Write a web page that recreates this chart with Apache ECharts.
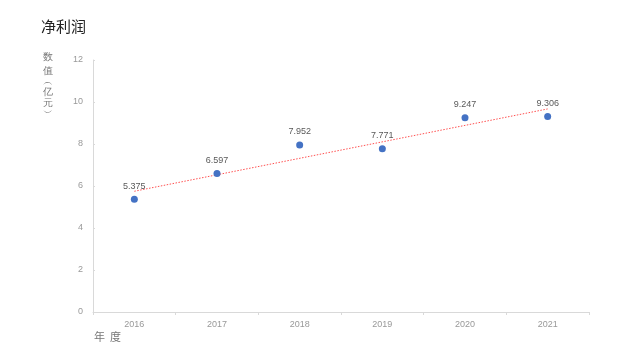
<!DOCTYPE html>
<html><head><meta charset="utf-8">
<script src="https://cdn.jsdelivr.net/npm/echarts@6/dist/echarts.min.js"></script>
<style>html,body{margin:0;padding:0;background:#fff}#c{width:640px;height:360px}</style>
</head><body><div id="c"></div>
<script>
const years = ['2016','2017','2018','2019','2020','2021'];
const netProfit = [5.375, 6.597, 7.952, 7.771, 9.247, 9.306];
const trendValues = [5.75, null, null, null, null, 9.67];
const yTicks = [0, 2, 4, 6, 8, 10, 12];

const chart = echarts.init(document.getElementById('c'));
chart.setOption({
  animation: false,
  title: { text: '净利润', left: 36, top: 14, textStyle: { fontSize: 15, fontWeight: 'normal', color: '#222', fontFamily: 'Noto Sans CJK SC' } },
  grid: { left: 93, right: 51, top: 60, bottom: 48, outerBoundsMode: 'none', containLabel: false },
  graphic: [
    { type: 'text', left: 43, top: 52, style: {
        text: '{a|数}\n{a|值}\n{p|︵}\n{b|亿}\n{b|元}\n{p|︶}',
        fill: '#777', fontSize: 10, fontFamily: 'Noto Sans CJK SC',
        rich: { a: { lineHeight: 14, fontSize: 10 }, b: { lineHeight: 11, fontSize: 10 }, p: { lineHeight: 9, fontSize: 10 } }
      } },
    { type: 'text', left: 94, top: 331, style: { text: '年  度', fill: '#777', fontSize: 11, fontFamily: 'Noto Sans CJK SC' } }
  ],
  xAxis: {
    type: 'category', data: years, boundaryGap: true,
    axisLine: { lineStyle: { color: '#d9d9d9' } },
    axisTick: { show: true, alignWithLabel: false, lineStyle: { color: '#d9d9d9' }, length: 3 },
    axisLabel: { color: '#999', fontSize: 9, margin: 8 }
  },
  yAxis: {
    type: 'value', min: yTicks[0], max: yTicks[yTicks.length - 1], interval: 2,
    axisLine: { show: true, lineStyle: { color: '#d9d9d9' } },
    axisTick: { show: true, inside: true, length: 2, lineStyle: { color: '#d9d9d9' } },
    axisLabel: { color: '#999', fontSize: 9, margin: 10 },
    splitLine: { show: false }
  },
  series: [
    {
      type: 'line', data: trendValues, connectNulls: true, symbol: 'none',
      lineStyle: { color: '#ff5050', width: 1, type: [1.5, 1.5] }, z: 1
    },
    {
      type: 'scatter', data: netProfit, symbolSize: 7,
      itemStyle: { color: '#4472C4', opacity: 1 },
      label: { show: true, position: 'top', distance: 5, color: '#595959', fontSize: 9, formatter: p => p.value.toFixed(3) },
      z: 2
    }
  ]
});
</script></body></html>
